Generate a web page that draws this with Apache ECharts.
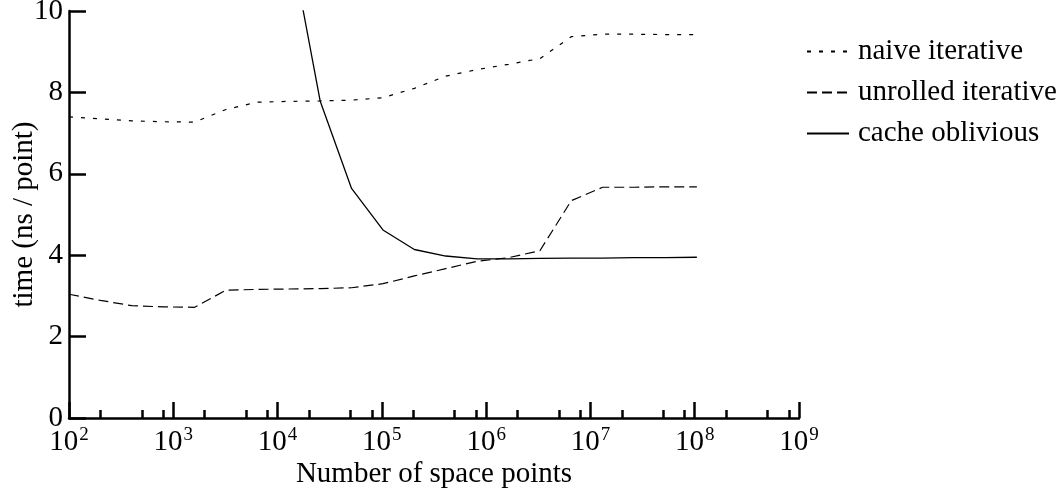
<!DOCTYPE html>
<html>
<head>
<meta charset="utf-8">
<script src="https://cdn.jsdelivr.net/npm/echarts@6/dist/echarts.min.js"></script>
<style>
  html, body { margin: 0; padding: 0; background: #fff; }
  #chart { width: 1060px; height: 488px; }
</style>
</head>
<body>
<div id="chart"></div>
<script>
// ---- data ----
var sizes = [100, 200, 400, 800, 1600, 3200, 6400, 12800, 25600, 51200, 102400,
             204800, 409600, 819200, 1638400, 3276800, 6553600, 13107200,
             26214400, 52428800, 104857600];
var naiveIterative = [7.40, 7.35, 7.30, 7.28, 7.27, 7.58, 7.76, 7.78, 7.79, 7.81, 7.87,
                      8.10, 8.40, 8.56, 8.69, 8.83, 9.37, 9.43, 9.43, 9.42, 9.42];
var unrolledIterative = [3.04, 2.89, 2.76, 2.73, 2.72, 3.14, 3.16, 3.17, 3.18, 3.20, 3.30,
                         3.49, 3.67, 3.85, 3.94, 4.11, 5.34, 5.67, 5.67, 5.68, 5.68];
var cacheOblivious = [null, null, null, null, null, null, null, 11.9, 7.79, 5.64, 4.62,
                      4.14, 3.98, 3.91, 3.91, 3.92, 3.93, 3.93, 3.94, 3.94, 3.95];
var seriesNames = ['naive iterative', 'unrolled iterative', 'cache oblivious'];
var decadeTicks = [1e2, 1e3, 1e4, 1e5, 1e6, 1e7, 1e8, 1e9];
var minorTicks = [2e2, 5e2, 8e2, 2e3, 5e3, 8e3, 2e4, 5e4, 8e4, 2e5, 5e5, 8e5,
                  2e6, 5e6, 8e6, 2e7, 5e7, 8e7, 2e8, 5e8, 8e8];
var yTicks = [0, 2, 4, 6, 8, 10];

function pairs(ys) {
  var out = [];
  for (var i = 0; i < sizes.length; i++) {
    if (ys[i] !== null) out.push([sizes[i], ys[i]]);
  }
  return out;
}

var FONT = '"Liberation Serif", "Times New Roman", serif';
var FS = 29;

var chart = echarts.init(document.getElementById('chart'), null, { renderer: 'canvas' });
chart.setOption({
  animation: false,
  backgroundColor: '#fff',
  textStyle: { fontFamily: FONT, color: '#000' },
  grid: { left: 69, right: 261, top: 11, bottom: 70, containLabel: false, outerBoundsMode: 'none' },
  legend: {
    orient: 'vertical',
    left: 806,
    top: 37,
    padding: 0,
    itemWidth: 42,
    itemHeight: 14,
    itemGap: 12,
    data: seriesNames,
    itemStyle: { color: 'rgba(0,0,0,0)', borderWidth: 0 },
    textStyle: { fontFamily: FONT, fontSize: FS, color: '#000', lineHeight: 29, padding: [0, 0, 0, 4] }
  },
  xAxis: [{
    type: 'log',
    logBase: 10,
    min: 1e2,
    max: 1e9,
    position: 'bottom',
    name: 'Number of space points',
    nameLocation: 'middle',
    nameGap: 42,
    nameMoveOverlap: false,
    nameTextStyle: { fontFamily: FONT, fontSize: FS, color: '#000' },
    axisLine: { show: true, lineStyle: { color: '#000', width: 2.5 } },
    axisTick: { show: true, inside: true, length: 16, customValues: decadeTicks,
                lineStyle: { color: '#000', width: 2.5 } },
    minorTick: { show: false },
    splitLine: { show: false },
    axisLabel: {
      customValues: decadeTicks,
      margin: 8,
      formatter: function (v) {
        return '{b|10}{e|' + Math.round(Math.log10(v)) + '}';
      },
      rich: {
        b: { fontFamily: FONT, fontSize: FS, color: '#000', verticalAlign: 'bottom' },
        e: { fontFamily: FONT, fontSize: 19, color: '#000', verticalAlign: 'bottom', padding: [0, 0, 12, 1] }
      }
    }
  }, {
    type: 'log',
    logBase: 10,
    min: 1e2,
    max: 1e9,
    position: 'bottom',
    axisLine: { show: false },
    axisTick: { show: true, inside: true, length: 8, customValues: minorTicks,
                lineStyle: { color: '#000', width: 2.5 } },
    axisLabel: { show: false },
    splitLine: { show: false }
  }],
  yAxis: {
    type: 'value',
    min: 0,
    max: 10,
    interval: 2,
    axisLine: { show: true, lineStyle: { color: '#000', width: 2.5 } },
    axisTick: { show: true, inside: true, length: 17, lineStyle: { color: '#000', width: 2.5 } },
    splitLine: { show: false },
    axisLabel: { fontFamily: FONT, fontSize: FS, color: '#000', margin: 6,
                 customValues: yTicks },
    name: 'time (ns / point)',
    nameLocation: 'middle',
    nameGap: 30,
    nameRotate: 90,
    nameMoveOverlap: false,
    nameTextStyle: { fontFamily: FONT, fontSize: FS, color: '#000' }
  },
  series: [{
    name: seriesNames[0],
    type: 'line',
    data: pairs(naiveIterative),
    symbol: 'none',
    clip: true,
    lineStyle: { color: '#000', width: 1.2, type: [4, 8] },
    itemStyle: { color: '#000' }
  }, {
    name: seriesNames[1],
    type: 'line',
    data: pairs(unrolledIterative),
    symbol: 'none',
    clip: true,
    lineStyle: { color: '#000', width: 1.2, type: [10, 5] },
    itemStyle: { color: '#000' }
  }, {
    name: seriesNames[2],
    type: 'line',
    data: pairs(cacheOblivious),
    symbol: 'none',
    clip: true,
    lineStyle: { color: '#000', width: 1.3, type: 'solid' },
    itemStyle: { color: '#000' }
  }]
});
</script>
</body>
</html>
